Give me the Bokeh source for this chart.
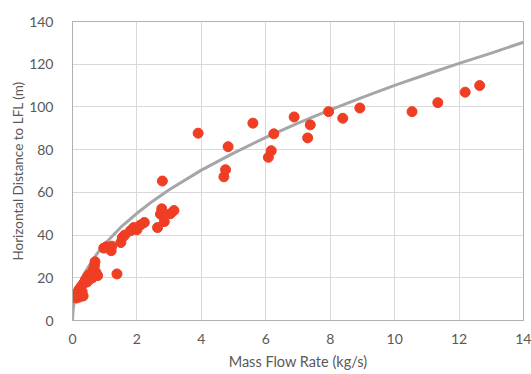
from bokeh.plotting import figure
from bokeh.models import FixedTicker, Range1d
from bokeh.embed import file_html
from bokeh.resources import INLINE

mass_flow = [0.12, 0.15, 0.18, 0.20, 0.22, 0.27, 0.30, 0.33, 0.35, 0.40, 0.45, 0.47,
             0.52, 0.55, 0.60, 0.62, 0.65, 0.68, 0.70, 0.73, 0.78,
             0.97, 1.05, 1.20, 1.22, 1.38, 1.50, 1.55, 1.62, 1.80, 1.90, 2.00, 2.11,
             2.23, 2.64, 2.73, 2.77, 2.79, 2.85, 3.04, 3.15, 3.90, 4.70, 4.75, 4.83,
             5.60, 6.08, 6.17, 6.25, 6.88, 7.30, 7.38, 7.95, 8.39, 8.92, 10.54, 11.34,
             12.19, 12.64]
distance = [10.5, 13.0, 12.0, 14.5, 11.0, 16.0, 13.5, 11.5, 17.5, 19.0, 18.0, 20.5,
            21.5, 19.5, 22.0, 20.0, 24.0, 25.5, 27.5, 22.5, 21.0,
            33.9, 34.5, 32.7, 34.8, 21.8, 36.5, 38.9, 40.0, 42.0, 43.5, 42.5, 44.7,
            45.9, 43.5, 49.8, 52.3, 65.3, 46.3, 50.0, 51.5, 87.7, 67.3, 70.6, 81.4,
            92.4, 76.4, 79.5, 87.4, 95.3, 85.5, 91.6, 97.8, 94.7, 99.5, 97.8, 102.0,
            106.9, 110.0]

# Trend curve
curve_x = [0, 0.02, 0.05, 0.1, 0.2, 0.35, 0.5, 0.75, 1, 1.5, 2, 2.5, 3, 4, 5, 6, 7,
           8, 9, 10, 11, 12, 13, 14]
curve_y = [0, 5.3, 8.3, 11.7, 16.4, 21.6, 25.3, 31.0, 35.8, 43.7, 50.2, 56.0, 61.2,
           70.4, 78.4, 85.7, 92.4, 98.6, 104.5, 110.1, 115.3, 120.4, 125.2, 130.3]

x_ticks = [0, 2, 4, 6, 8, 10, 12, 14]
y_ticks = [0, 20, 40, 60, 80, 100, 120, 140]

FONT = "Lato"
TXT = "#595959"

p = figure(width=531, height=374, output_backend="svg", toolbar_location=None,
           x_range=Range1d(0, 14), y_range=Range1d(0, 140),
           min_border_left=72, min_border_right=8, min_border_top=21,
           min_border_bottom=54)
p.background_fill_color = "white"
p.border_fill_color = "white"
p.outline_line_color = "#b0b0b0"
p.outline_line_width = 1

p.line(curve_x, curve_y, line_color="#a6a6a6", line_width=3)
p.scatter(mass_flow, distance, size=10, fill_color="#ef3e23", line_color="#ef3e23")

p.xaxis.ticker = FixedTicker(ticks=x_ticks)
p.yaxis.ticker = FixedTicker(ticks=y_ticks)
p.xgrid.ticker = FixedTicker(ticks=x_ticks)
p.ygrid.ticker = FixedTicker(ticks=y_ticks)
p.grid.grid_line_color = "#d9d9d9"
p.grid.grid_line_width = 1

for ax in (p.xaxis[0], p.yaxis[0]):
    ax.axis_line_color = "#b0b0b0"
    ax.major_tick_line_color = None
    ax.minor_tick_line_color = None
    ax.major_label_text_font = FONT
    ax.major_label_text_font_size = "14px"
    ax.major_label_text_color = TXT
    ax.axis_label_text_font = FONT
    ax.axis_label_text_font_style = "normal"
    ax.axis_label_text_color = TXT

p.xaxis.axis_label = "Mass Flow Rate (kg/s)"
p.yaxis.axis_label = "Horizontal Distance to LFL (m)"
p.xaxis.axis_label_text_font_size = "14.5px"
p.yaxis.axis_label_text_font_size = "13.5px"
p.xaxis.major_label_standoff = 7
p.yaxis.major_label_standoff = 13
p.xaxis.axis_label_standoff = 6
p.yaxis.axis_label_standoff = 0

open("out.html", "w").write(file_html(p, INLINE))
